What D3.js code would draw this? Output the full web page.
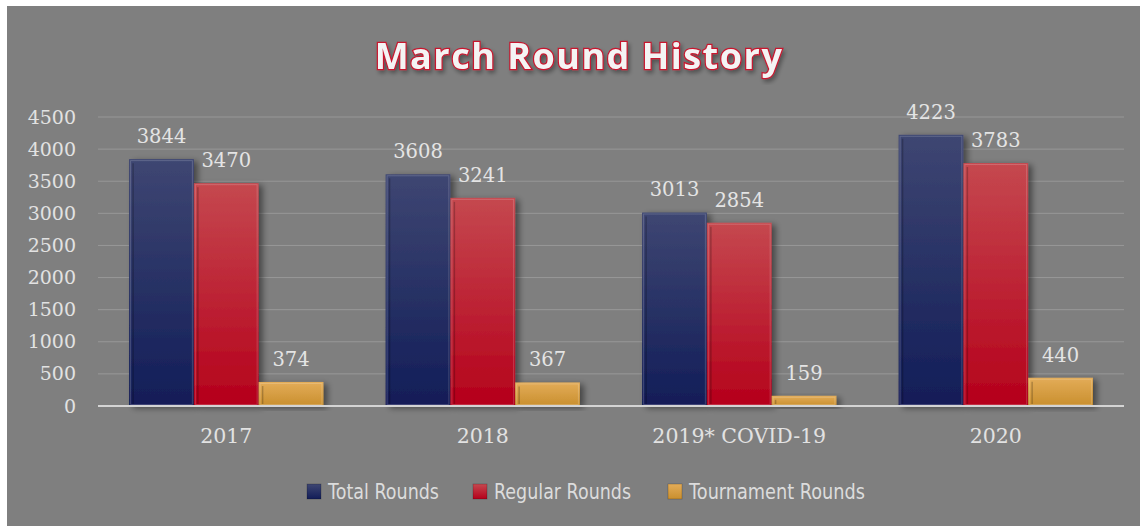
<!DOCTYPE html>
<html>
<head>
<meta charset="utf-8">
<script src="https://cdn.jsdelivr.net/npm/d3@7"></script>
<style>
  body { margin: 0; background: #fff; }
  svg { display: block; }
</style>
</head>
<body>
<div id="chart"></div>
<script>
// data
var years = ["2017", "2018", "2019* COVID-19", "2020"];
var seriesNames = ["Total Rounds", "Regular Rounds", "Tournament Rounds"];
var totalRounds = [3844, 3608, 3013, 4223];
var regularRounds = [3470, 3241, 2854, 3783];
var tournamentRounds = [374, 367, 159, 440];
var yTicks = [0, 500, 1000, 1500, 2000, 2500, 3000, 3500, 4000, 4500];

var W = 1140, H = 527;
var svg = d3.select("#chart").append("svg").attr("width", W).attr("height", H);
var defs = svg.append("defs");
var numFont = "'DejaVu Serif', serif";

// gradients per series (top colour, bottom colour)
var grads = [
  ["#3e4672", "#121d58"],
  ["#c5484f", "#b5001b"],
  ["#e3ac58", "#c98f2e"]
];
grads.forEach(function (c, i) {
  var g = defs.append("linearGradient").attr("id", "g" + i)
    .attr("x1", 0).attr("x2", 0).attr("y1", 0).attr("y2", 1);
  g.append("stop").attr("offset", "0%").attr("stop-color", c[0]);
  g.append("stop").attr("offset", "100%").attr("stop-color", c[1]);
});

var sh = defs.append("filter").attr("id", "shadow")
  .attr("x", "-20%").attr("y", "-20%").attr("width", "150%").attr("height", "140%");
sh.append("feDropShadow").attr("dx", 4).attr("dy", 2).attr("stdDeviation", 3)
  .attr("flood-color", "#000").attr("flood-opacity", 0.45);

var tsh = defs.append("filter").attr("id", "tshadow");
tsh.append("feDropShadow").attr("dx", 2).attr("dy", 3).attr("stdDeviation", 2)
  .attr("flood-color", "#000").attr("flood-opacity", 0.35);

// background panel
svg.append("rect").attr("x", 7).attr("y", 6).attr("width", W - 7).attr("height", H - 7)
  .attr("fill", "#7f7f7f");

// title
svg.append("text")
  .attr("x", 579).attr("y", 69)
  .attr("text-anchor", "middle")
  .attr("font-family", "'Open Sans', sans-serif")
  .attr("font-weight", 700)
  .attr("font-size", 36)
  .attr("letter-spacing", 1.5)
  .attr("fill", "#f4f4f4")
  .attr("stroke", "#c8182f")
  .attr("stroke-width", 2.5)
  .attr("paint-order", "stroke")
  .attr("filter", "url(#tshadow)")
  .text("March Round History");

// scales
var x0 = d3.scaleBand().domain(years).range([98, 1124]).padding(0);
var x1 = d3.scaleBand().domain(d3.range(3)).range([0, x0.bandwidth()])
  .paddingInner(0).paddingOuter(0.48);
var y = d3.scaleLinear().domain([0, 4500]).range([406, 117]);

// gridlines
svg.append("g").selectAll("line").data(yTicks.slice(1)).join("line")
  .attr("x1", 98).attr("x2", 1124)
  .attr("y1", function (d) { return y(d); }).attr("y2", function (d) { return y(d); })
  .attr("stroke", "#989898").attr("stroke-width", 1);

// y axis labels
var yAxis = d3.axisLeft(y).tickValues(yTicks).tickFormat(d3.format("d"))
  .tickSize(0).tickPadding(0);
svg.append("g").attr("transform", "translate(76,0)").call(yAxis)
  .call(function (g) {
    g.select(".domain").remove();
    g.selectAll("text")
      .attr("font-family", numFont)
      .attr("font-size", 19).attr("fill", "#e2e2e2");
  });

// bars
var series = [totalRounds, regularRounds, tournamentRounds];
var groups = svg.append("g").selectAll("g").data(years).join("g")
  .attr("transform", function (d) { return "translate(" + x0(d) + ",0)"; });

var bars = groups.selectAll("g.bar").data(function (d, i) {
  return series.map(function (s, k) { return { k: k, v: s[i] }; });
}).join("g").attr("class", "bar");

bars.append("rect")
  .attr("x", function (d) { return x1(d.k); })
  .attr("y", function (d) { return y(d.v); })
  .attr("width", x1.bandwidth())
  .attr("height", function (d) { return y(0) - y(d.v); })
  .attr("fill", function (d) { return "url(#g" + d.k + ")"; })
  .attr("filter", "url(#shadow)");

// bevel edges
bars.append("rect")
  .attr("x", function (d) { return x1(d.k) + 1.5; })
  .attr("y", function (d) { return y(d.v) + 1.5; })
  .attr("width", x1.bandwidth() - 3)
  .attr("height", function (d) { return Math.max(0, y(0) - y(d.v) - 3); })
  .attr("fill", "none")
  .attr("stroke", "rgba(255,255,255,0.18)")
  .attr("stroke-width", 1);
bars.append("line")
  .attr("x1", function (d) { return x1(d.k) + 4; })
  .attr("x2", function (d) { return x1(d.k) + 4; })
  .attr("y1", function (d) { return y(d.v) + 4; })
  .attr("y2", function (d) { return y(0) - 2; })
  .attr("stroke", "rgba(0,0,0,0.22)").attr("stroke-width", 1.5);

// value labels
bars.append("text")
  .attr("x", function (d) { return x1(d.k) + x1.bandwidth() / 2; })
  .attr("y", function (d) { return y(d.v) - 16; })
  .attr("text-anchor", "middle")
  .attr("font-family", numFont)
  .attr("font-size", 19.5).attr("fill", "#e4e4e4")
  .text(function (d) { return d.v; });

// baseline
svg.append("line").attr("x1", 98).attr("x2", 1124).attr("y1", y(0)).attr("y2", y(0))
  .attr("stroke", "#d4d4d4").attr("stroke-width", 2);

// category labels
var xAxis = d3.axisBottom(x0).tickSize(0).tickPadding(0);
svg.append("g").attr("transform", "translate(0,436)").call(xAxis)
  .call(function (g) {
    g.select(".domain").remove();
    g.selectAll("text").attr("dy", "0.35em")
      .attr("font-family", numFont)
      .attr("font-size", 20.5).attr("fill", "#e2e2e2");
  });

// legend
var legX = [307, 473, 668];
var legW = [111, 137, 176];
var leg = svg.append("g").selectAll("g").data(seriesNames).join("g")
  .attr("transform", function (d, i) { return "translate(" + legX[i] + ",491)"; });
leg.append("rect").attr("x", 0).attr("y", -7).attr("width", 14).attr("height", 15)
  .attr("fill", function (d, i) { return "url(#g" + i + ")"; })
  .attr("stroke", "rgba(0,0,0,0.25)").attr("stroke-width", 0.8);
leg.append("text").attr("x", 21).attr("y", 0).attr("dy", "0.35em")
  .attr("font-family", "'DejaVu Sans', sans-serif")
  .attr("font-size", 22).attr("fill", "#dcdcdc")
  .attr("textLength", function (d, i) { return legW[i]; })
  .attr("lengthAdjust", "spacingAndGlyphs")
  .text(function (d) { return d; });
</script>
</body>
</html>
